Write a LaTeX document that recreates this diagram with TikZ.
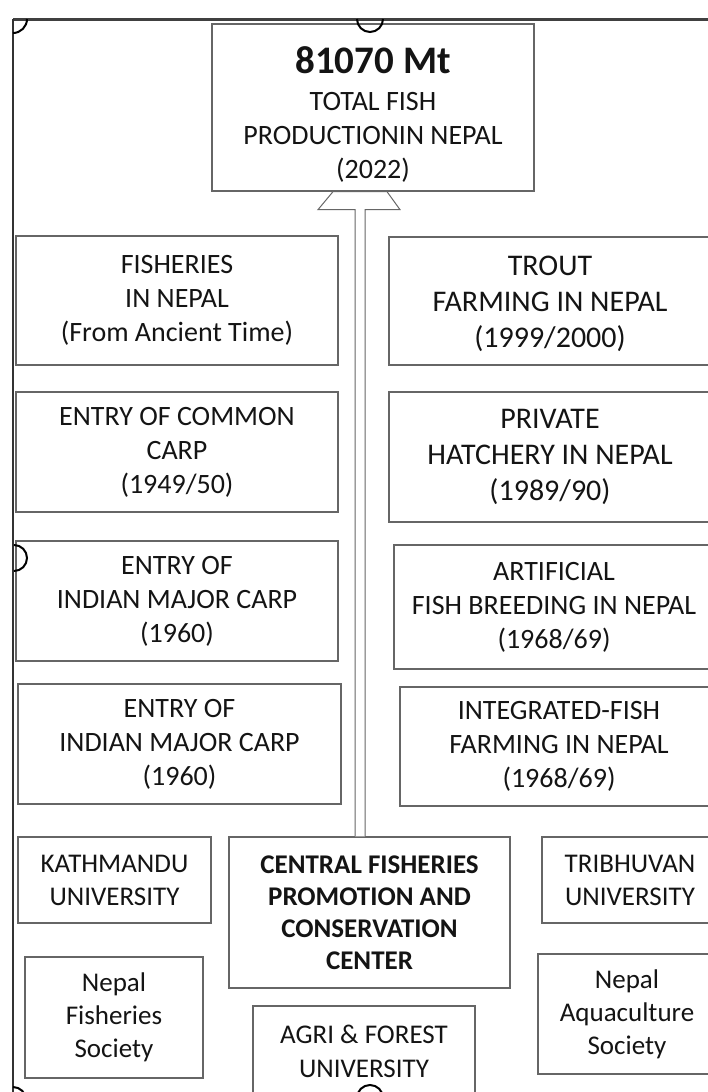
\documentclass[tikz,border=0pt]{standalone}
\usepackage{fontspec}
\setmainfont{Carlito}
\usetikzlibrary{positioning, calc}
\tikzset{
  box/.style={draw=black!60, line width=1.3pt, fill=white, inner sep=0pt, align=center,
    text=black!92, font=\fontsize{28}{34}\selectfont},
  bigtext/.style={font=\fontsize{30}{36}\selectfont},
  handle/.style={draw=black, line width=2pt},
}

\begin{document}
\begin{tikzpicture}[x=1pt,y=-1pt]
\useasboundingbox (0,0) rectangle (708,1092);
\clip (0,0) rectangle (708,1092);
\fill[white] (0,0) rectangle (708,1092);
% frame
\draw[black!75, line width=3pt] (13,19) -- (720,19);
\draw[black!80, line width=1.5pt] (13,19) -- (13,1100);

% top
\node[box, minimum width=322pt, minimum height=167pt] (total) at (373,107.5)
{\rule{0pt}{40pt}{\fontsize{39}{40}\selectfont\bfseries 81070 Mt}\\[3pt]TOTAL FISH\\PRODUCTIONIN NEPAL\\(2022)};

% left column
\node[box, minimum width=322pt, minimum height=129pt] (ancient) at (177,300.5)
{FISHERIES\\IN NEPAL\\(From Ancient Time)};
\node[box, minimum width=322pt, minimum height=120pt] (common) at (177,452)
{ENTRY OF COMMON\\CARP\\(1949/50)};
\node[box, minimum width=322pt, minimum height=120pt] (indian) at (177,601)
{ENTRY OF\\INDIAN MAJOR CARP\\(1960)};
\node[box, minimum width=323pt, minimum height=120pt] (indiantwo) at (179.5,744)
{ENTRY OF\\INDIAN MAJOR CARP\\(1960)};

% right column
\node[box, bigtext, minimum width=322pt, minimum height=128pt] (trout) at (550,301)
{\rule{0pt}{26pt}TROUT\\FARMING IN NEPAL\\(1999/2000)};
\node[box, bigtext, minimum width=322pt, minimum height=130pt] (hatchery) at (550,457)
{PRIVATE\\HATCHERY IN NEPAL\\(1989/90)};
\node[box, minimum width=320pt, minimum height=124pt] (breeding) at (554,607)
{ARTIFICIAL\\FISH BREEDING IN NEPAL\\(1968/69)};
\node[box, minimum width=318pt, minimum height=119pt] (integrated) at (559,746.5)
{INTEGRATED-FISH\\FARMING IN NEPAL\\(1968/69)};

% bottom
\node[box, minimum width=193pt, minimum height=86pt, font=\fontsize{27}{33}\selectfont] (ku) at (114.5,880)
{KATHMANDU\\UNIVERSITY};
\node[box, minimum width=281pt, minimum height=151pt, font=\fontsize{27}{32}\selectfont\bfseries] (cfpcc) at (369.5,912.5)
{CENTRAL FISHERIES\\PROMOTION AND\\CONSERVATION\\CENTER};
\node[box, minimum width=176pt, minimum height=86pt, font=\fontsize{27}{33}\selectfont] (tu) at (630,880)
{TRIBHUVAN\\UNIVERSITY};
\node[box, minimum width=178pt, minimum height=121pt, font=\fontsize{27}{33}\selectfont] (nfs) at (114,1017.5)
{Nepal\\Fisheries\\Society};
\node[box, minimum width=222pt, minimum height=90pt, font=\fontsize{27}{34}\selectfont] (afu) at (364,1051)
{AGRI \& FOREST\\UNIVERSITY};
\node[box, minimum width=178pt, minimum height=120pt, font=\fontsize{27}{33}\selectfont] (nas) at (627,1014)
{Nepal\\Aquaculture\\Society};

% hollow arrow up to the total
\coordinate (ax) at (360,0);
\draw[black!60, line width=1pt, fill=white] ($(ax |- cfpcc.north)+(-5,0)$) -- ($(ax |- total.south)+(-5,18)$)
  -- ++(-37,0) -- ++(15,-18) -- ++(54,0) -- ++(13,18) -- ++(-35,0) -- ($(ax |- cfpcc.north)+(5,0)$);

% handles
\draw[handle] (13,33) arc[start angle=90, end angle=0, radius=14];
\draw[handle] (357,19) arc[start angle=180, end angle=0, radius=13];
\draw[handle] (14,545) arc[start angle=-90, end angle=90, radius=13];
\draw[handle] (13,1087) arc[start angle=-90, end angle=0, radius=13];
\draw[handle] (357,1098) arc[start angle=180, end angle=360, radius=13];
\end{tikzpicture}
\end{document}
